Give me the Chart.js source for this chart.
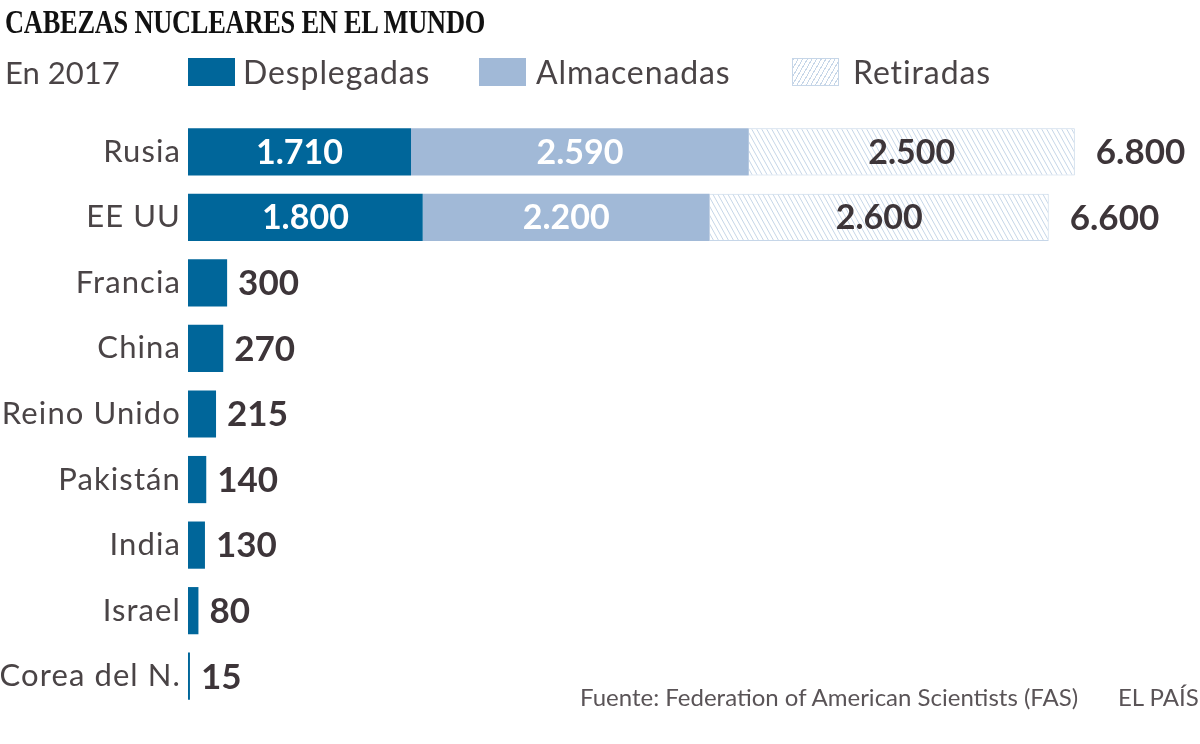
<!DOCTYPE html>
<html>
<head>
<meta charset="utf-8">
<script src="https://cdn.jsdelivr.net/npm/chart.js@4"></script>
<style>
    body { margin: 0; background: #fff; }
    #wrap { position: relative; width: 1200px; height: 744px; overflow: hidden; }
    #chart { position: absolute; left: 0; top: 0; }
    .txt { position: absolute; white-space: nowrap; color: #4a4446; font-family: Lato, sans-serif; }
    #title { left: 5px; top: 4px; font-family: "Liberation Serif", serif; font-weight: bold; font-size: 33px;
             color: #111; transform: scaleX(0.8); transform-origin: left top; letter-spacing: -0.3px; }
    .leg { top: 52px; font-size: 32px; line-height: 40px; letter-spacing: 0.9px; }
    .sw { position: absolute; top: 58px; width: 47px; height: 28px; box-sizing: border-box; }
    #foot { top: 682px; left: 580px; font-size: 24px; color: #5a5457; }
    #brand { top: 682px; left: 1118px; font-size: 24px; color: #5a5457; }
</style>
</head>
<body>
<div id="wrap">
    <canvas id="chart" width="1200" height="744"></canvas>
    <div class="txt" id="title">CABEZAS NUCLEARES EN EL MUNDO</div>
    <div class="txt leg" style="left:5px; font-size:31px; letter-spacing:0">En 2017</div>
    <div class="sw" style="left:188px; background:#00669a"></div>
    <div class="txt leg" style="left:243px">Desplegadas</div>
    <div class="sw" style="left:479px; background:#a1b9d7"></div>
    <div class="txt leg" style="left:536px">Almacenadas</div>
    <div class="sw" style="left:792px; border:1px solid #c6d6e8;
         background:repeating-linear-gradient(-60deg, #fff 0 3px, #c6d6e8 3px 4px)"></div>
    <div class="txt leg" style="left:853px">Retiradas</div>
    <div class="txt" id="foot">Fuente: Federation of American Scientists (FAS)</div>
    <div class="txt" id="brand">EL PAÍS</div>
</div>
<script>
const categories = ['Rusia', 'EE UU', 'Francia', 'China', 'Reino Unido', 'Pakistán', 'India', 'Israel', 'Corea del N.'];
const desplegadas = [1710, 1800, 300, 270, 215, 140, 130, 80, 15];
const almacenadas = [2590, 2200, 0, 0, 0, 0, 0, 0, 0];
const retiradas = [2500, 2600, 0, 0, 0, 0, 0, 0, 0];

const DARK = '#00669a';
const LIGHT = '#a1b9d7';
const HATCH = '#c6d6e8';
const TEXT = '#3d3539';


function formatNum(n) {
    return String(n).replace(/\B(?=(\d{3})+(?!\d))/g, '.');
}


function makeHatch() {
    const c = document.createElement('canvas');
    c.width = 5;
    c.height = 9;
    const g = c.getContext('2d');
    g.fillStyle = '#fff';
    g.fillRect(0, 0, 5, 9);
    g.strokeStyle = HATCH;
    g.lineWidth = 1;
    for (let k = -1; k <= 1; k++) {
        g.beginPath();
        g.moveTo(k * 5, 0);
        g.lineTo(k * 5 + 5, 9);
        g.stroke();
    }
    return document.getElementById('chart').getContext('2d').createPattern(c, 'repeat');
}


const totals = categories.map((_, i) => desplegadas[i] + almacenadas[i] + retiradas[i]);

// wider tracking for the category labels
const spacingPlugin = {
    id: 'spacing',
    beforeDraw(chart) { chart.ctx.letterSpacing = '1.1px'; },
    afterDraw(chart) { chart.ctx.letterSpacing = '0px'; }
};

const labelPlugin = {
    id: 'valueLabels',
    afterDatasetsDraw(chart) {
        const ctx = chart.ctx;
        ctx.save();
        ctx.letterSpacing = '0px';
        ctx.textBaseline = 'middle';
        ctx.font = 'bold 34px Lato';
        const colors = ['#fff', '#fff', TEXT];
        chart.data.datasets.forEach((ds, d) => {
            const meta = chart.getDatasetMeta(d);
            meta.data.forEach((bar, i) => {
                if (almacenadas[i] === 0) return;
                const v = ds.data[i];
                ctx.fillStyle = colors[d];
                ctx.textAlign = 'center';
                ctx.fillText(formatNum(v), (bar.base + bar.x) / 2, bar.y + 1);
            });
        });
        const last = chart.getDatasetMeta(2).data;
        const first = chart.getDatasetMeta(0).data;
        ctx.font = 'bold 35px Lato';
        totals.forEach((t, i) => {
            const end = almacenadas[i] === 0 ? first[i].x : last[i].x;
            ctx.fillStyle = TEXT;
            ctx.textAlign = 'left';
            const gap = almacenadas[i] === 0 ? 11 : 21;
            ctx.fillText(formatNum(t), end + gap, first[i].y + 1);
        });
        ctx.restore();
    }
};


function initChart() {
    const ctx = document.getElementById('chart').getContext('2d');
    return new Chart(ctx, {
        type: 'bar',
        data: {
            labels: categories,
            datasets: [{
                label: 'Desplegadas',
                data: desplegadas,
                backgroundColor: DARK,
                borderWidth: 0
            }, {
                label: 'Almacenadas',
                data: almacenadas,
                backgroundColor: LIGHT,
                borderWidth: 0
            }, {
                label: 'Retiradas',
                data: retiradas,
                backgroundColor: makeHatch(),
                borderColor: HATCH,
                borderWidth: 1
            }]
        },
        options: {
            indexAxis: 'y',
            responsive: false,
            animation: false,
            layout: { padding: { top: 119, bottom: 35, left: 0, right: 12 } },
            datasets: { bar: { categoryPercentage: 1, barPercentage: 0.72 } },
            scales: {
                x: { stacked: true, display: false, min: 0, max: 7668 },
                y: {
                    stacked: true,
                    grid: { display: false, drawTicks: false },
                    border: { display: false },
                    ticks: {
                        padding: 7,
                        color: '#4a4446',
                        font: { family: 'Lato', size: 31 }
                    },
                    afterFit(scale) { scale.width = 188; }
                }
            },
            plugins: {
                legend: { display: false },
                tooltip: { enabled: false }
            }
        },
        plugins: [spacingPlugin, labelPlugin]
    });
}


document.addEventListener('DOMContentLoaded', function() {
    initChart();
});
</script>
</body>
</html>
